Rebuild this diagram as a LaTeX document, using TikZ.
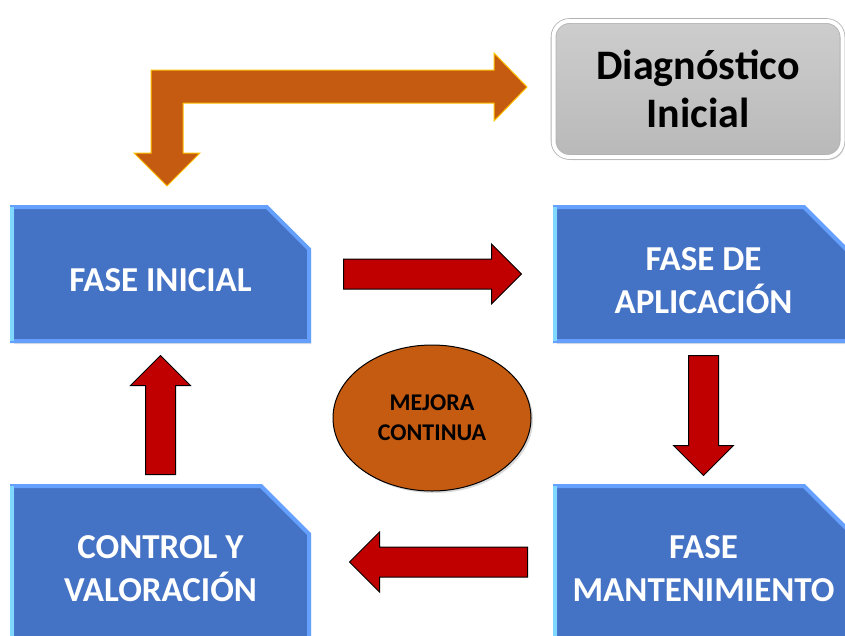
\documentclass[tikz,border=0pt]{standalone}
\usepackage{fontspec}
\setmainfont{Carlito}
\usetikzlibrary{shapes.geometric,shapes.misc,shapes.arrows,shadows,calc}

\definecolor{faseblue}{HTML}{4472C4}
\definecolor{bevelblue}{HTML}{66A0FF}
\definecolor{bordecyan}{HTML}{80D8FF}
\definecolor{flechared}{HTML}{C00000}
\definecolor{naranja}{HTML}{C55A11}
\definecolor{naranjaline}{HTML}{FFC000}
\definecolor{diaggray}{HTML}{C9C9C9}

\begin{document}
\begin{tikzpicture}
	[x=1pt,y=-1pt,
	fase/.style={chamfered rectangle,chamfered rectangle corners=north east,
		chamfered rectangle sep=24pt,fill=faseblue,draw=bevelblue,line width=4pt,
		minimum width=297pt,text width=262pt,inner xsep=-8pt,inner ysep=0pt,outer sep=0pt,
		text=white,align=flush center,font=\fontsize{35}{43}\selectfont\bfseries,
		execute at begin node={\rule{0pt}{36pt}},
		drop shadow={opacity=.25,shadow xshift=2pt,shadow yshift=-3pt}},
	borde/.style={draw=bordecyan,line width=4pt},
	flecha/.style={single arrow,fill=flechared,draw=black,line width=1pt,
		single arrow head extend=15pt,inner sep=0pt,text height=29pt,text width=29pt},
	mejora/.style={ellipse,fill=naranja,draw=black,line width=1pt,
		minimum width=198pt,minimum height=146pt,inner sep=0pt,align=center,
		font=\fontsize{24}{30}\selectfont\bfseries,
		drop shadow={opacity=.3,shadow xshift=2pt,shadow yshift=-2pt}},
	diag/.style={rectangle,rounded corners=16pt,top color=diaggray!92!white,
		bottom color=diaggray!92!black,draw=gray!60,double=white,double distance=4pt,
		line width=.8pt,minimum width=289pt,minimum height=136pt,align=center,
		font=\fontsize{42}{48}\selectfont\bfseries,
		drop shadow={opacity=.3,shadow xshift=2pt,shadow yshift=-3pt}},
	codo/.style={fill=naranja,draw=naranjaline,line width=1pt,line join=miter}]
	\useasboundingbox (0,0) rectangle (845,635);
	\clip (0,0) rectangle (845,635);
		% fases
		\node[fase,minimum height=134pt] (inicial) at (160.5,274) {FASE INICIAL};
		\node[fase,minimum height=134pt] (aplicacion) at (703.5,274) {FASE DE\\APLICACIÓN};
		\node[fase,minimum height=152pt] (control) at (160.5,562) {CONTROL Y\\VALORACIÓN};
		\node[fase,minimum height=152pt] (mantenimiento) at (703.5,562) {FASE\\MANTENIMIENTO};
		\foreach \n in {inicial,aplicacion,control,mantenimiento}
			\draw[borde] (\n.west |- \n.north) -- (\n.west |- \n.south);
		\node[diag] (diagnostico) at (698,89) {Diagnóstico\\Inicial};
		\node[mejora] (continua) at ($(inicial.east)!0.5!(mantenimiento.west)$) {MEJORA\\CONTINUA};
		% flechas
		\node[flecha,minimum height=178pt,anchor=tail] (f1) at ([xshift=34pt]inicial.east) {};
		\node[flecha,minimum height=120pt,shape border rotate=270,anchor=tail] (f2) at ([yshift=-14pt]aplicacion.south) {};
		\node[flecha,minimum height=178pt,shape border rotate=180,anchor=tail] (f3) at ([xshift=-27pt]mantenimiento.west) {};
		\node[flecha,minimum height=119pt,shape border rotate=90,anchor=tail] (f4) at ([yshift=11pt]control.north) {};
		\draw[codo] (151,70) -- (494,70) -- (494,53) -- (527,87) -- (494,121) -- (494,103)
			-- (183,103) -- (183,153) -- (200,153) -- (167,186) -- (134,153) -- (151,153) -- cycle;
\end{tikzpicture}
\end{document}
